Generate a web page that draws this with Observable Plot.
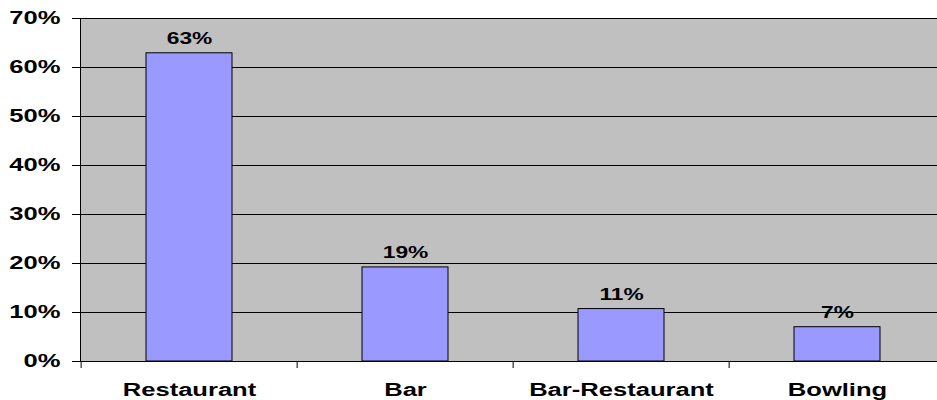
<!DOCTYPE html>
<html>
<head>
<meta charset="utf-8">
<script src="https://cdn.jsdelivr.net/npm/d3@7"></script>
<script src="https://cdn.jsdelivr.net/npm/@observablehq/plot@0.6"></script>
<style>
  html, body { margin: 0; padding: 0; background: #fff; }
</style>
</head>
<body>
<div id="chart"></div>
<script>
const categories = ["Restaurant", "Bar", "Bar-Restaurant", "Bowling"];
const values = [62.9, 19.2, 10.7, 7.0];
const valueLabels = ["63%", "19%", "11%", "7%"];
const yTicks = [0, 10, 20, 30, 40, 50, 60, 70];

const data = categories.map((c, i) => ({category: c, value: values[i], label: valueLabels[i]}));

const xRange = [80, 947];
const step = (xRange[1] - xRange[0]) / categories.length;

const chart = Plot.plot({
  width: 937,
  height: 400,
  marginLeft: 80,
  marginRight: 0,
  marginTop: 18,
  marginBottom: 39,
  style: {
    fontFamily: "'Liberation Sans', Arial, sans-serif",
    fontWeight: "bold",
    fontSize: "18px",
    color: "#000",
    background: "#fff",
    overflow: "hidden"
  },
  x: {domain: categories, range: xRange, paddingInner: 0.6, paddingOuter: 0.3, label: null},
  y: {domain: [0, 70], label: null},
  marks: [
    Plot.frame({fill: "#C0C0C0", stroke: "none"}),
    Plot.ruleY(yTicks.filter(d => d > 0), {stroke: "#000", strokeWidth: 1}),
    Plot.barY(data, {x: "category", y: "value", fill: "#9999FF", stroke: "#000", strokeWidth: 1}),
    Plot.ruleY([0], {stroke: "#000"}),
    Plot.frame({anchor: "left", stroke: "#000"}),
    Plot.ruleX(categories, {x: d => d, dx: -step / 2, y1: 0, y2: 0, insetBottom: -7, stroke: "#000"}),
    Plot.axisY({ticks: yTicks, tickFormat: d => d + "%", tickSize: 8, tickPadding: 12, label: null}),
    Plot.axisX({tickSize: 0, tickPadding: 21.5, label: null}),
    Plot.text(data, {x: "category", y: "value", text: "label", dy: -9, lineAnchor: "bottom", fontSize: 16, fontWeight: "bold"})
  ]
});

document.getElementById("chart").append(chart);

chart.querySelectorAll("text").forEach(t => {
  const L = t.getComputedTextLength();
  if (L > 0) {
    t.setAttribute("textLength", (L * 1.42).toFixed(1));
    t.setAttribute("lengthAdjust", "spacingAndGlyphs");
  }
});
</script>
</body>
</html>
